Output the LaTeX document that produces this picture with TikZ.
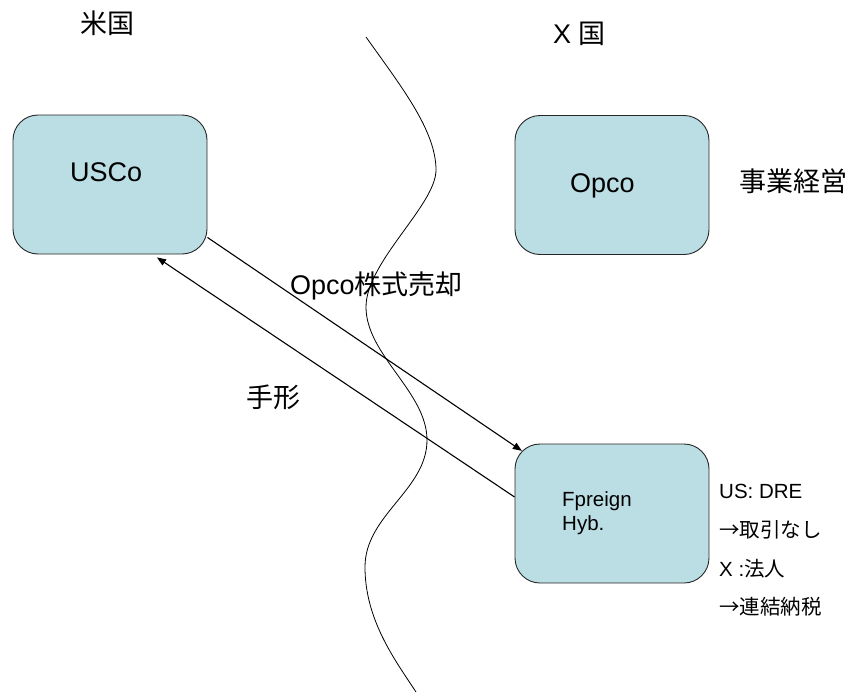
\documentclass[tikz,border=0pt]{standalone}
\usepackage{fontspec}
\setmainfont{Liberation Sans}
\newfontfamily\jp{Noto Sans CJK JP}
\usetikzlibrary{arrows.meta,calc}
\definecolor{boxfill}{RGB}{187,222,228}
\begin{document}
\begin{tikzpicture}[x=1pt,y=-1pt,
  entity/.style={draw=black!85, line width=0.9pt, fill=boxfill,
    rounded corners=25pt, minimum width=194pt, minimum height=139pt, inner sep=0pt},
  big/.style={font=\fontsize{27}{32}\selectfont, inner sep=0pt, anchor=base west},
  small/.style={font=\fontsize{20.5}{24}\selectfont, inner sep=0pt, anchor=base west},
  flow/.style={line width=1.1pt, -{Triangle[length=9pt,width=7pt]}},
  border/.style={line width=0.8pt}]
\useasboundingbox (0,0) rectangle (851,693);

% country labels
\node[big] (us) at (80,34) {\jp 米国};
\node[big] (xc) at (553,44) {X {\jp 国}};

% the border between the two countries
\draw[border] (366,37) .. controls (400,85) and (436,130) .. (436,170)
  .. controls (436,205) and (366,262) .. (366,307)
  .. controls (366,355) and (427,392) .. (427,440)
  .. controls (427,490) and (365,515) .. (365,567)
  .. controls (365,620) and (395,660) .. (416,692);

% entities
\node[entity] (usco) at (110,184.5) {};
\node[entity] (opco) at (612,185) {};
\node[entity] (fh) at (612,513.5) {};

\node[big] (uscolbl) at (70,181.5) {USCo};
\node[big] (opcolbl) at (570,192) {Opco};
\node[small] (fhl1) at (562,506) {Fpreign};
\node[small] (fhl2) at (562,530) {Hyb.};

\node[big] (ops) at (739,191) {\jp 事業経営};

% side notes on the hybrid
\node[small] (n1) at (719,498) {US: DRE};
\node[small] (n2) at (719,537) {\jp →取引なし};
\node[small] (n3) at (719,576) {X :{\jp 法人}};
\node[small] (n4) at (719,614) {\jp →連結納税};

% flows
\draw[flow] ([yshift=17pt]usco.south east) -- ([xshift=7.3pt,yshift=-7.3pt]fh.north west);
\draw[flow] ([yshift=16.5pt]fh.west) -- ([xshift=47pt,yshift=-3pt]usco.south);

\node[big] (sale) at (290,294) {Opco{\jp 株式売却}};
\node[big] (note) at (246,407) {\jp 手形};
\end{tikzpicture}
\end{document}
